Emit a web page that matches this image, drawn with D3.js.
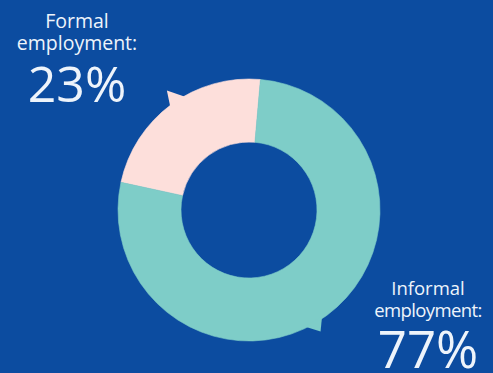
<!DOCTYPE html>
<html>
<head>
<meta charset="utf-8">
<script src="https://cdn.jsdelivr.net/npm/d3@7/dist/d3.min.js"></script>
<style>
  html, body { margin: 0; padding: 0; background: #0c4ca0; }
  svg { display: block; }
  text { font-family: "Open Sans", "Noto Sans", sans-serif; fill: #eef4fb; }
</style>
</head>
<body>
<svg id="chart" width="493" height="373"></svg>
<script>
// Share of employment by type
const categories = ["Formal", "Informal"];
const shares = [23, 77];
const labelLines = [["Formal", "employment:"], ["Informal", "employment:"]];
const valueLabels = ["23%", "77%"];

const colors = ["#fddfdb", "#7ecdc8"];

const W = 493, H = 373;
const cx = 249, cy = 210;
const outerR = 131, innerR = 68;
const startDeg = -77.8;

const svg = d3.select("#chart");
svg.append("rect").attr("width", W).attr("height", H).attr("fill", "#0c4ca0");

const pie = d3.pie()
  .sort(null)
  .value(d => d)
  .startAngle(startDeg * Math.PI / 180)
  .endAngle(startDeg * Math.PI / 180 + 2 * Math.PI);

const arcs = pie(shares);
const arc = d3.arc().innerRadius(innerR).outerRadius(outerR);

const g = svg.append("g").attr("transform", `translate(${cx},${cy})`);

// speech-bubble tails on each ring segment, pointing at its label
// [base angle 1, base angle 2, apex angle, apex radius] in degrees / px
const tails = [
  [-37.5, -29, -34.5, 145],
  [145.5, 154.5, 149.5, 141]
];
const polar = (deg, r) => [r * Math.sin(deg * Math.PI / 180), -r * Math.cos(deg * Math.PI / 180)];

g.selectAll("path.seg")
  .data(arcs)
  .join("path")
  .attr("class", "seg")
  .attr("d", arc)
  .attr("fill", (d, i) => colors[i])
  .attr("stroke", (d, i) => colors[i])
  .attr("stroke-width", 0.6);

g.selectAll("path.tail")
  .data(arcs)
  .join("path")
  .attr("class", "tail")
  .attr("d", (d, i) => {
    const t = tails[i];
    const p1 = polar(t[0], outerR - 2), p2 = polar(t[1], outerR - 2), a = polar(t[2], t[3]);
    return `M${p1}L${a}L${p2}Z`;
  })
  .attr("fill", (d, i) => colors[i]);

// labels
const labelPos = [
  { x: 77, y1: 28, y2: 50, yv: 102, s1: 19.5, sv: 50 },
  { x: 428, y1: 295, y2: 317, yv: 368, s1: 18.5, sv: 51 }
];

categories.forEach((c, i) => {
  const p = labelPos[i];
  const lg = svg.append("g");
  lg.append("text").attr("x", p.x).attr("y", p.y1).attr("text-anchor", "middle")
    .attr("font-size", p.s1).text(labelLines[i][0]);
  lg.append("text").attr("x", p.x).attr("y", p.y2).attr("text-anchor", "middle")
    .attr("font-size", p.s1).attr("letter-spacing", i === 1 ? -0.6 : 0).text(labelLines[i][1]);
  lg.append("text").attr("x", p.x).attr("y", p.yv).attr("text-anchor", "middle")
    .attr("font-size", p.sv).attr("font-weight", 400).text(valueLabels[i]);
});
</script>
</body>
</html>
